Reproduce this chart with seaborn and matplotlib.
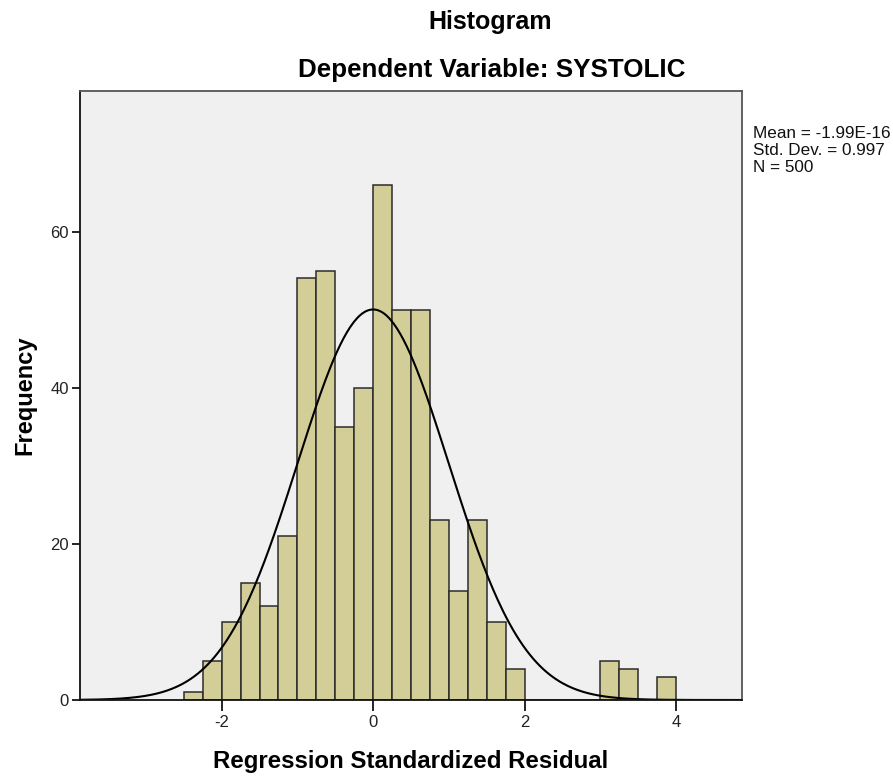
import numpy as np
import pandas as pd
import matplotlib
matplotlib.use("Agg")
import matplotlib.pyplot as plt
import seaborn as sns

# ---- data ----
bin_edges = [-2.5, -2.25, -2.0, -1.75, -1.5, -1.25, -1.0, -0.75, -0.5, -0.25,
             0.0, 0.25, 0.5, 0.75, 1.0, 1.25, 1.5, 1.75, 2.0, 2.25, 2.5,
             2.75, 3.0, 3.25, 3.5, 3.75, 4.0]
counts = [1, 5, 10, 15, 12, 21, 54, 55, 35, 40,
          66, 50, 50, 23, 14, 23, 10, 4, 0, 0,
          0, 0, 5, 4, 0, 3]
mean_val = -1.99e-16
std_val = 0.997
n_val = 500
x_ticks = [-2, 0, 2, 4]
y_ticks = [0, 20, 40, 60]
title = "Histogram"
subtitle = "Dependent Variable: SYSTOLIC"
x_label = "Regression Standardized Residual"
y_label = "Frequency"
stats_text = "Mean = -1.99E-16\nStd. Dev. = 0.997\nN = 500"

sns.set_theme(style="white")
plt.rcParams['font.family'] = ['Liberation Sans', 'DejaVu Sans']
plt.rcParams['text.color'] = 'black'
plt.rcParams['axes.labelcolor'] = 'black'

centers = [(bin_edges[i] + bin_edges[i + 1]) / 2 for i in range(len(counts))]
df = pd.DataFrame({"x": centers, "w": counts})

fig = plt.figure(figsize=(8.93, 7.76), dpi=100)
ax = fig.add_axes([80 / 893, 1 - 700 / 776, 662 / 893, 609 / 776])
ax.set_facecolor("#F0F0F0")

sns.histplot(data=df, x="x", weights="w", bins=bin_edges, ax=ax,
             color="#D3CE97", edgecolor="#2b2b2b", linewidth=1.1, alpha=1.0)

# normal curve from stated mean / sd / N
binw = bin_edges[1] - bin_edges[0]
xs = np.linspace(-3.87, 4.87, 400)
ys = n_val * binw * np.exp(-0.5 * ((xs - mean_val) / std_val) ** 2) / (std_val * np.sqrt(2 * np.pi))
sns.lineplot(x=xs, y=ys, ax=ax, color="black", linewidth=1.5)

ax.set_xlim(-3.87, 4.87)
ax.set_ylim(0, 78)
ax.set_xticks(x_ticks)
ax.set_xticklabels([str(t) for t in x_ticks])
ax.set_yticks(y_ticks)
ax.set_yticklabels([str(t) for t in y_ticks])
ax.tick_params(axis="x", direction="out", length=8, width=1.2, color="black",
               labelsize=12, labelcolor="#222222", bottom=True, pad=3)
ax.tick_params(axis="y", direction="out", length=6, width=1.2, color="black",
               labelsize=12, labelcolor="#222222", left=True, pad=2)
for s in ["left", "bottom"]:
    ax.spines[s].set_color("#111111")
    ax.spines[s].set_linewidth(1.3)
for s in ["top", "right"]:
    ax.spines[s].set_color("#555555")
    ax.spines[s].set_linewidth(1.3)

ax.set_xlabel(x_label, fontsize=17.3, fontweight="bold", labelpad=14)
ax.set_ylabel(y_label, fontsize=17, fontweight="bold", labelpad=10)

fig.text(490 / 893, 1 - 22 / 776, title, ha="center", va="center",
         fontsize=18, fontweight="bold")
fig.text(492 / 893, 1 - 70 / 776, subtitle, ha="center", va="center",
         fontsize=18.7, fontweight="bold")
fig.text(753 / 893, 1 - 126 / 776, stats_text, ha="left", va="top",
         fontsize=12.3, linespacing=1.17, color="#111111")

fig.savefig("out.png", dpi=100, facecolor="white")
